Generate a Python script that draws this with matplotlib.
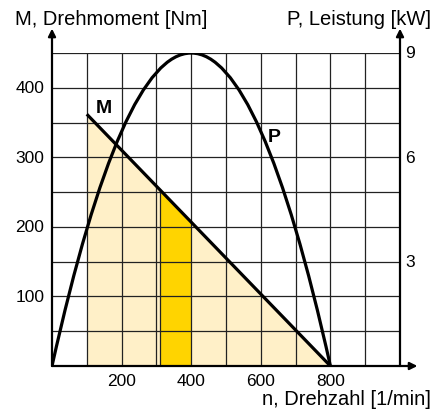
import matplotlib.pyplot as plt
from matplotlib.path import Path
from matplotlib.patches import PathPatch

plt.rcParams['font.family'] = ['Liberation Sans', 'DejaVu Sans']

# torque line M (Nm) over speed n (1/min)
m_n = [100, 800]
m_nm = [362, 0]
# highlighted speed band
band_n = [310, 400]
# power curve P (kW): start, peak, end
p_n = [0, 400, 800]
p_kw = [0, 9, 0]

x_ticks = [200, 400, 600, 800]
y_ticks = [100, 200, 300, 400]
y2_ticks = [3, 6, 9]
kw_per_nm = 9 / 450  # right scale: 9 kW at 450 on the left scale

light = '#fff0c8'
dark = '#ffd400'

fig = plt.figure(figsize=(4.42, 4.10), dpi=100)
ax = fig.add_axes([52 / 442, 1 - 367 / 410, 348 / 442, 313 / 410])
ax.set_xlim(0, 1000)
ax.set_ylim(0, 450)


def m_at(n):
    return m_nm[0] + (m_nm[1] - m_nm[0]) * (n - m_n[0]) / (m_n[1] - m_n[0])


# fills under the torque line
ax.fill_between(m_n, m_nm, 0, color=light, lw=0, zorder=1)
ax.fill_between(band_n, [m_at(b) for b in band_n], 0, color=dark, lw=0, zorder=1.5)
ax.plot([band_n[0]] * 2, [0, m_at(band_n[0])], color='#222', lw=0.9, zorder=2)

# grid
for gx in range(100, 1001, 100):
    ax.plot([gx, gx], [0, 450], color='#222', lw=0.9, zorder=2)
for gy in range(50, 451, 50):
    ax.plot([0, 1000], [gy, gy], color='#222', lw=0.9, zorder=2)

# torque line
ax.plot(m_n, m_nm, color='black', lw=2.3, zorder=4, solid_capstyle='butt')

# power curve as quadratic Bezier (peak on left scale)
p0 = (p_n[0], p_kw[0] / kw_per_nm)
pk = (p_n[1], p_kw[1] / kw_per_nm)
p1 = (p_n[2], p_kw[2] / kw_per_nm)
ctrl = (pk[0], 2 * pk[1] - (p0[1] + p1[1]) / 2)
path = Path([p0, ctrl, p1], [Path.MOVETO, Path.CURVE3, Path.CURVE3])
ax.add_patch(PathPatch(path, fill=False, color='black', lw=2.3, zorder=4))

for s in ax.spines.values():
    s.set_visible(False)
ax.set_xticks([])
ax.set_yticks([])

# axes with arrows
arrow = dict(arrowstyle='-|>', color='black', lw=1.6, mutation_scale=11,
             shrinkA=0, shrinkB=0)
ax.annotate('', xy=(0, 485), xytext=(0, 0), arrowprops=arrow, annotation_clip=False)
ax.annotate('', xy=(1000, 485), xytext=(1000, 0), arrowprops=arrow, annotation_clip=False)
ax.annotate('', xy=(1050, 0), xytext=(0, 0), arrowprops=arrow, annotation_clip=False)

fs = 12.5
ft = 14.5
for t in x_ticks:
    ax.text(t, -27, str(t), ha='center', va='baseline', fontsize=fs)
for t in y_ticks:
    ax.text(-22, t, str(t), ha='right', va='center', fontsize=fs)
for t in y2_ticks:
    ax.text(1016, t / kw_per_nm, str(t), ha='left', va='center', fontsize=fs)

ax.text(125, 372, 'M', fontsize=14, fontweight='bold', ha='left', va='center')
ax.text(620, 330, 'P', fontsize=14, fontweight='bold', ha='left', va='center')

fig.text(15 / 442, 1 - 25 / 410, 'M, Drehmoment [Nm]', fontsize=ft, ha='left', va='baseline')
fig.text(431 / 442, 1 - 25 / 410, 'P, Leistung [kW]', fontsize=ft, ha='right', va='baseline')
fig.text(431 / 442, 1 - 405 / 410, 'n, Drehzahl [1/min]', fontsize=ft, ha='right', va='baseline')

fig.savefig('out.png', dpi=100)
